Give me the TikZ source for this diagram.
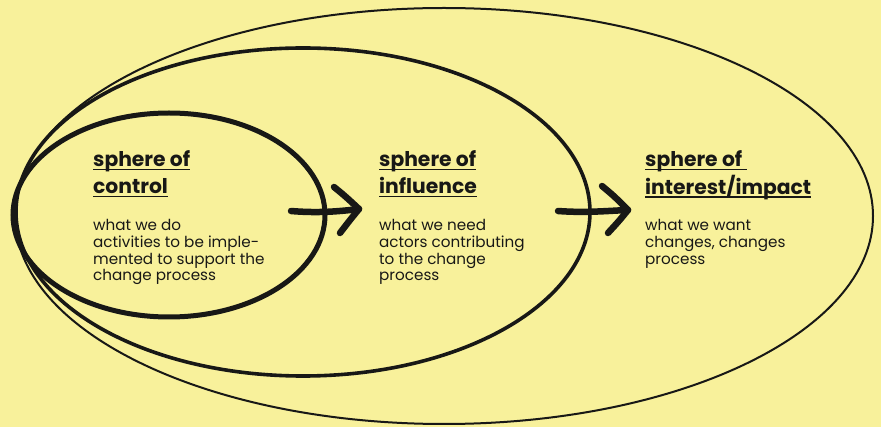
\documentclass[tikz,border=0pt]{standalone}
\usepackage{fontspec}
\setmainfont{Poppins}
\definecolor{bg}{RGB}{248,241,155}
\definecolor{ink}{RGB}{24,24,22}
\newcommand{\myul}[1]{\setbox0\hbox{#1}\rlap{\rule[-3.4pt]{\wd0}{1.5pt}}\box0}
\tikzset{
  ttl/.style={inner sep=0pt, anchor=base west, text=ink, font=\fontsize{20.3}{27}\selectfont\bfseries},
  body/.style={inner sep=0pt, anchor=base west, text=ink, font=\fontsize{15.2}{16.6}\selectfont},
  ring/.style={draw=ink},
  arrowpath/.style={draw=ink, line width=6.5pt, line cap=round, line join=round}
}
\begin{document}
\begin{tikzpicture}[x=1pt,y=-1pt]
\fill[bg] (0,0) rectangle (881,427);
\useasboundingbox (0,0) rectangle (881,427);
% spheres
\draw[ring, line width=2pt] (444,216) ellipse [x radius=429, y radius=208];
\draw[ring, line width=3.6pt] (303,212) ellipse [x radius=287, y radius=164];
\draw[ring, line width=5pt] (169,215) ellipse [x radius=156, y radius=102];
% texts
\node[ttl] (t1) at (93,167) {\begin{tabular}[t]{@{}l@{}}\myul{sphere of}\\\myul{control}\end{tabular}};
\node[body] (b1) at (93,231) {\begin{tabular}[t]{@{}l@{}}what we do\\activities to be imple-\\mented to support the\\change process\end{tabular}};
\node[ttl] (t2) at (379,167) {\begin{tabular}[t]{@{}l@{}}\myul{sphere of}\\\myul{influence}\end{tabular}};
\node[body] (b2) at (379,231) {\begin{tabular}[t]{@{}l@{}}what we need\\actors contributing\\to the change\\process\end{tabular}};
\node[ttl] (t3) at (645,167) {\begin{tabular}[t]{@{}l@{}}\myul{sphere of\ }\\\myul{interest/impact}\end{tabular}};
\node[body] (b3) at (645,231) {\begin{tabular}[t]{@{}l@{}}what we want\\changes, changes\\process\end{tabular}};
% arrows
\coordinate (a1s) at (291,211);
\coordinate (a1t) at (359,209);
\coordinate (a1u) at (334,187);
\coordinate (a1l) at (340,233);
\coordinate (a2s) at (558,211);
\coordinate (a2t) at (628,210);
\coordinate (a2u) at (602,186);
\coordinate (a2l) at (608,233);
\draw[arrowpath] (a1s) .. controls (315,213) and (335,212) .. (a1t);
\draw[arrowpath] (a1u) .. controls (345,196) .. (a1t) .. controls (350,220) .. (a1l);
\draw[arrowpath] (a2s) .. controls (585,213) and (605,211) .. (a2t);
\draw[arrowpath] (a2u) .. controls (614,196) .. (a2t) .. controls (619,221) .. (a2l);
\end{tikzpicture}
\end{document}
